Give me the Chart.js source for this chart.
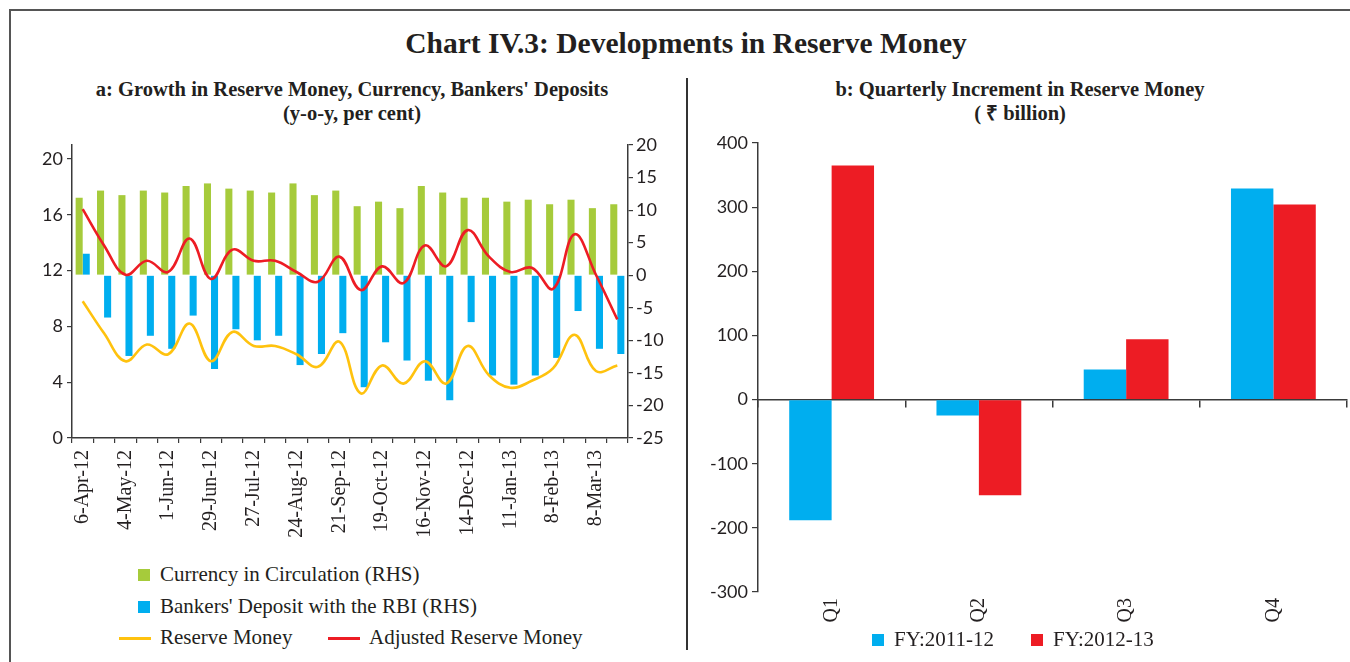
<!DOCTYPE html>
<html>
<head>
<meta charset="utf-8">
<script src="https://cdn.jsdelivr.net/npm/chart.js@4.4.0/dist/chart.umd.min.js"></script>
<style>
  html, body { margin: 0; padding: 0; background: #fff; }
  body { width: 1350px; height: 662px; position: relative; overflow: hidden; font-family: "Liberation Serif", serif; color: #231f20; }
  #frame { position: absolute; left: 9px; top: 9px; width: 1400px; height: 700px; border-top: 2px solid #555; border-left: 2px solid #555; }
  .title { position: absolute; left: 0; width: 1372px; top: 25px; text-align: center; font-weight: bold; font-size: 29.5px; line-height: 36px; }
  .sub { position: absolute; text-align: center; font-weight: bold; font-size: 20.5px; line-height: 24px; }
  #divider { position: absolute; left: 686px; top: 78px; width: 1.5px; height: 572px; background: #333; }
  .box { position: absolute; }
  .leg { position: absolute; font-size: 21px; line-height: 24px; white-space: nowrap; }
  .sw { position: absolute; }
</style>
</head>
<body>
<div id="frame"></div>
<div class="title">Chart IV.3: Developments in Reserve Money</div>
<div class="sub" style="left:0;width:704px;top:77px;">a: Growth in Reserve Money, Currency, Bankers' Deposits<br>(y-o-y, per cent)</div>
<div class="sub" style="left:690px;width:660px;top:77px;">b: Quarterly Increment in Reserve Money<br>( ₹ billion)</div>
<div id="divider"></div>
<div class="box" style="left:10px;top:130px;width:670px;height:430px;"><canvas id="c1"></canvas></div>
<div class="box" style="left:690px;top:125px;width:660px;height:537px;"><canvas id="c2"></canvas></div>
<div id="legends"></div>
<script>
// ---------- Data: panel a ----------
const categories = ['6-Apr-12','20-Apr-12','4-May-12','18-May-12','1-Jun-12','15-Jun-12','29-Jun-12','13-Jul-12','27-Jul-12','10-Aug-12','24-Aug-12','7-Sep-12','21-Sep-12','5-Oct-12','19-Oct-12','2-Nov-12','16-Nov-12','30-Nov-12','14-Dec-12','28-Dec-12','11-Jan-13','25-Jan-13','8-Feb-13','22-Feb-13','8-Mar-13','22-Mar-13'];
const currencyInCirculation = [11.9,13.0,12.3,13.0,12.7,13.7,14.1,13.3,13.0,12.7,14.1,12.3,13.0,10.6,11.3,10.3,13.7,12.7,11.9,11.9,11.3,11.6,10.9,11.6,10.3,10.9];
const bankersDeposit = [3.3,-6.5,-12.4,-9.3,-11.3,-6.2,-14.4,-8.3,-10.0,-9.3,-13.8,-12.1,-8.9,-17.2,-10.3,-13.1,-16.2,-19.2,-7.2,-15.4,-16.8,-15.4,-12.7,-5.5,-11.3,-12.1];
const reserveMoney = [9.8,7.5,5.5,6.7,6.0,8.2,5.5,7.6,6.6,6.6,6.0,5.1,6.9,3.2,5.2,3.9,5.5,3.9,6.6,4.5,3.6,4.1,5.0,7.4,4.8,5.2];
const adjustedReserveMoney = [16.4,13.8,11.7,12.7,11.9,14.3,11.4,13.5,12.7,12.7,11.9,11.2,13.0,10.6,12.3,11.1,13.8,12.3,14.9,13.0,11.9,12.2,10.7,14.6,11.7,8.5];
const lhsTicks = [0,4,8,12,16,20];
const rhsTicks = [-25,-20,-15,-10,-5,0,5,10,15,20];

// ---------- Data: panel b ----------
const quarters = ['Q1','Q2','Q3','Q4'];
const fy2011_12 = [-188,-25,47,329];
const fy2012_13 = [365,-149,94,304];
const quarterTicks = [-300,-200,-100,0,100,200,300,400];

const GREEN = '#a6cb3b', BLUE = '#00aeef', RED = '#ed1c24', YELLOW = '#ffc20e', INK = '#231f20', AXIS = '#3a3a3a';
const numFont = { family: 'Lato, "Open Sans", sans-serif', size: 18 };
const serifFont = { family: '"Liberation Serif", serif', size: 20 };

Chart.defaults.animation = false;
Chart.defaults.color = INK;

function fixTicks(list) {
  return function(scale) { scale.ticks = list.map(v => ({ value: v })); };
}

// ---------- Panel a ----------
new Chart(document.getElementById('c1'), {
  type: 'bar',
  data: {
    labels: categories,
    datasets: [
      { type: 'line', label: 'Reserve Money', data: reserveMoney, yAxisID: 'y', borderColor: YELLOW, backgroundColor: YELLOW, borderWidth: 2.6, pointRadius: 0, tension: 0.4, order: 0 },
      { type: 'line', label: 'Adjusted Reserve Money', data: adjustedReserveMoney, yAxisID: 'y', borderColor: RED, backgroundColor: RED, borderWidth: 2.6, pointRadius: 0, tension: 0.4, order: 0 },
      { label: 'Currency in Circulation (RHS)', data: currencyInCirculation, yAxisID: 'y1', backgroundColor: GREEN, categoryPercentage: 0.66, barPercentage: 1, order: 1 },
      { label: "Bankers' Deposit with the RBI (RHS)", data: bankersDeposit, yAxisID: 'y1', backgroundColor: BLUE, categoryPercentage: 0.66, barPercentage: 1, order: 1 }
    ]
  },
  options: {
    responsive: true, maintainAspectRatio: false,
    layout: { padding: { top: 15, left: 0, right: 0, bottom: 0 } },
    plugins: { legend: { display: false }, tooltip: { enabled: false } },
    scales: {
      x: {
        offset: true,
        grid: { display: true, drawOnChartArea: false, drawTicks: true, tickLength: 5, offset: true, color: AXIS, lineWidth: 1.2 },
        border: { display: true, color: AXIS, width: 1.5 },
        ticks: {
          autoSkip: false, minRotation: 90, maxRotation: 90, padding: 7, font: serifFont, color: INK,
          callback: function(v, i) { return i % 2 === 0 ? this.getLabelForValue(v) : ''; }
        },
        afterFit: s => { s.height = 122; }
      },
      y: {
        position: 'left', min: 0, max: 21,
        afterBuildTicks: fixTicks(lhsTicks),
        grid: { drawOnChartArea: false, drawTicks: true, tickLength: 5, color: AXIS, lineWidth: 1.2 },
        border: { display: true, color: AXIS, width: 1.5 },
        ticks: { font: numFont, color: INK, padding: 4 },
        afterFit: s => { s.width = 62; }
      },
      y1: {
        position: 'right', min: -25, max: 20,
        afterBuildTicks: fixTicks(rhsTicks),
        grid: { drawOnChartArea: false, drawTicks: true, tickLength: 5, color: AXIS, lineWidth: 1.2 },
        border: { display: true, color: AXIS, width: 1.5 },
        ticks: { font: numFont, color: INK, padding: 3 },
        afterFit: s => { s.width = 52; }
      }
    }
  }
});

// ---------- Panel b ----------
new Chart(document.getElementById('c2'), {
  type: 'bar',
  data: {
    labels: quarters,
    datasets: [
      { label: 'FY:2011-12', data: fy2011_12, backgroundColor: BLUE, categoryPercentage: 0.576, barPercentage: 1 },
      { label: 'FY:2012-13', data: fy2012_13, backgroundColor: RED, categoryPercentage: 0.576, barPercentage: 1 }
    ]
  },
  options: {
    responsive: true, maintainAspectRatio: false,
    layout: { padding: { top: 18, left: 0, right: 3, bottom: 0 } },
    plugins: { legend: { display: false }, tooltip: { enabled: false } },
    scales: {
      x: {
        offset: true,
        grid: { display: false, drawTicks: false },
        border: { display: false },
        ticks: { minRotation: 90, maxRotation: 90, padding: 6, font: serifFont, color: INK },
        afterFit: s => { s.height = 70; }
      },
      x2: {
        axis: 'x', type: 'category', position: { y: 0 }, offset: true,
        grid: { display: true, drawOnChartArea: false, drawTicks: true, tickLength: 7, offset: true, color: AXIS, lineWidth: 1.5 },
        border: { display: true, color: AXIS, width: 1.5 },
        ticks: { display: false }
      },
      y: {
        min: -300, max: 400,
        afterBuildTicks: fixTicks(quarterTicks),
        grid: { drawOnChartArea: false, drawTicks: true, tickLength: 6, color: AXIS, lineWidth: 1.2 },
        border: { display: true, color: AXIS, width: 1.5 },
        ticks: { font: numFont, color: INK, padding: 4 },
        afterFit: s => { s.width = 68; }
      }
    }
  }
});

// ---------- HTML legends (text from dataset labels) ----------
const legendItems = [
  { kind: 'box', color: GREEN, text: 'Currency in Circulation (RHS)', x: 138, y: 575 },
  { kind: 'box', color: BLUE, text: "Bankers' Deposit with the RBI (RHS)", x: 138, y: 607 },
  { kind: 'line', color: YELLOW, text: 'Reserve Money', x: 119, y: 638 },
  { kind: 'line', color: RED, text: 'Adjusted Reserve Money', x: 328, y: 638 },
  { kind: 'box', color: BLUE, text: 'FY:2011-12', x: 872, y: 640 },
  { kind: 'box', color: RED, text: 'FY:2012-13', x: 1031, y: 640 }
];
const L = document.getElementById('legends');
legendItems.forEach(it => {
  const sw = document.createElement('div');
  sw.className = 'sw';
  if (it.kind === 'box') {
    sw.style.cssText = `left:${it.x}px;top:${it.y - 6}px;width:12px;height:12px;background:${it.color};`;
  } else {
    sw.style.cssText = `left:${it.x}px;top:${it.y - 1.5}px;width:32px;height:3px;background:${it.color};`;
  }
  L.appendChild(sw);
  const t = document.createElement('div');
  t.className = 'leg';
  const tx = it.kind === 'box' ? it.x + 22 : it.x + 41;
  t.style.cssText = `left:${tx}px;top:${it.y - 13}px;`;
  t.textContent = it.text;
  L.appendChild(t);
});
</script>
</body>
</html>
